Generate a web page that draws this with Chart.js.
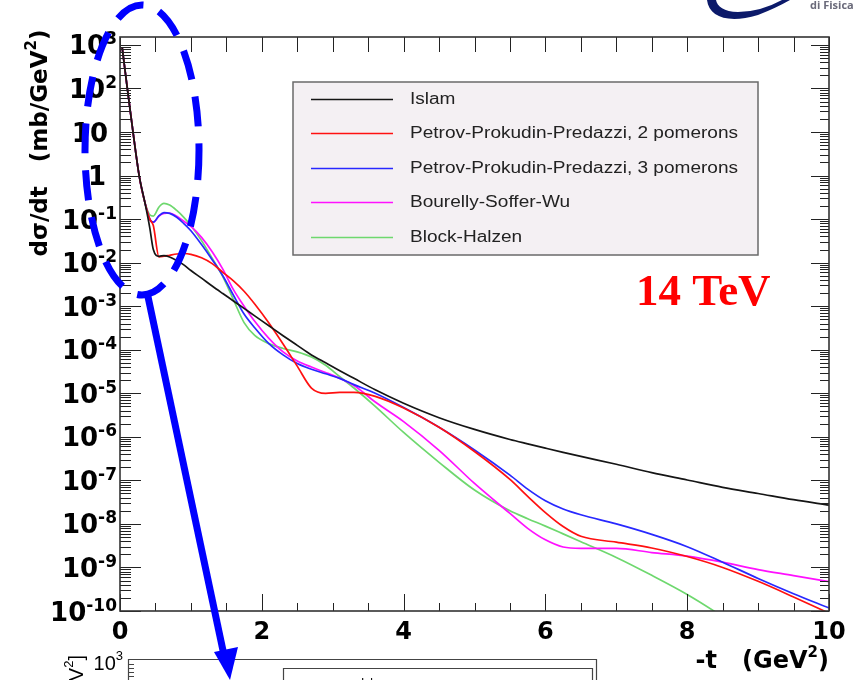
<!DOCTYPE html>
<html>
<head>
<meta charset="utf-8">
<script src="https://cdn.jsdelivr.net/npm/chart.js@4.4.1/dist/chart.umd.min.js"></script>
<style>
  html, body { margin: 0; padding: 0; background: #fff; }
  #c { display: block; }
</style>
</head>
<body>
<canvas id="c" width="857" height="680"></canvas>
<script>
// -t values (GeV^2), shared by all curves
const tValues = [0.03, 0.1, 0.18, 0.27, 0.35, 0.42, 0.47, 0.55, 0.62, 0.7, 0.8, 0.9, 1.0, 1.15, 1.3, 1.45,
  1.6, 1.75, 1.9, 2.1, 2.3, 2.5, 2.7, 2.9, 3.1, 3.3, 3.6, 4.0, 4.5, 5.0, 5.5, 5.75, 6.0, 6.25, 6.5, 7.0,
  7.5, 8.0, 8.5, 9.0, 9.5, 10.0];

// dsigma/dt in mb/GeV^2
const islam = [8.9e2, 1.1e2, 1.1e1, 1.0, 2.45e-1, 6.3e-2, 2.0e-2, 1.4e-2, 1.45e-2, 1.35e-2, 1.12e-2, 8.9e-3,
  6.6e-3, 4.4e-3, 2.9e-3, 1.95e-3, 1.32e-3, 8.9e-4, 6.0e-4, 3.55e-4, 2.1e-4, 1.26e-4, 7.6e-5, 5.0e-5,
  3.3e-5, 2.2e-5, 1.2e-5, 5.9e-6, 2.75e-6, 1.48e-6, 8.7e-7, 6.9e-7, 5.5e-7, 4.4e-7, 3.55e-7, 2.34e-7,
  1.5e-7, 1.02e-7, 6.9e-8, 5.0e-8, 3.6e-8, 2.7e-8];
const ppp2 = [8.9e2, 1.1e2, 1.1e1, 1.0, 2.45e-1, 1.0e-1, 7.1e-2, 1.35e-2, 1.4e-2, 1.48e-2, 1.58e-2, 1.62e-2,
  1.55e-2, 1.29e-2, 9.5e-3, 6.0e-3, 3.8e-3, 2.2e-3, 1.12e-3, 4.1e-4, 1.35e-4, 4.2e-5, 1.32e-5, 1.0e-5,
  1.05e-5, 1.05e-5, 8.5e-6, 4.6e-6, 1.66e-6, 4.6e-7, 1.05e-7, 4.3e-8, 1.82e-8, 8.7e-9, 5.2e-9, 3.8e-9,
  2.8e-9, 1.78e-9, 1.0e-9, 4.8e-10, 2.1e-10, 8.9e-11];
const ppp3 = [8.9e2, 1.1e2, 1.1e1, 1.0, 2.45e-1, 1.0e-1, 8.5e-2, 1.2e-1, 1.41e-1, 1.35e-1, 1.1e-1, 7.9e-2,
  5.4e-2, 2.6e-2, 1.17e-2, 5.0e-3, 1.78e-3, 6.6e-4, 3.2e-4, 1.38e-4, 7.6e-5, 4.8e-5, 3.55e-5, 2.8e-5,
  2.2e-5, 1.58e-5, 1.0e-5, 4.7e-6, 1.66e-6, 5.0e-7, 1.32e-7, 6.3e-8, 3.4e-8, 2.2e-8, 1.62e-8, 1.0e-8,
  5.75e-9, 3.0e-9, 1.32e-9, 5.6e-10, 2.5e-10, 1.17e-10];
const bsw = [8.9e2, 1.1e2, 1.1e1, 1.0, 2.45e-1, 1.0e-1, 8.5e-2, 1.17e-1, 1.35e-1, 1.38e-1, 1.17e-1, 8.9e-2,
  6.8e-2, 3.8e-2, 1.78e-2, 7.1e-3, 2.4e-3, 1.0e-3, 4.5e-4, 1.82e-4, 8.9e-5, 5.5e-5, 4.0e-5, 3.0e-5,
  2.2e-5, 1.51e-5, 6.3e-6, 2.24e-6, 4.9e-7, 8.5e-8, 1.74e-8, 7.9e-9, 4.3e-9, 2.95e-9, 2.75e-9, 2.75e-9,
  2.2e-9, 1.82e-9, 1.32e-9, 8.9e-10, 6.5e-10, 4.7e-10];
const blockHalzen = [8.9e2, 1.1e2, 1.1e1, 1.0, 2.45e-1, 1.26e-1, 1.17e-1, 1.9e-1, 2.3e-1, 2.1e-1, 1.58e-1,
  1.1e-1, 7.1e-2, 3.2e-2, 1.26e-2, 4.8e-3, 1.41e-3, 4.2e-4, 2.14e-4, 1.38e-4, 1.07e-4, 8.9e-5, 6.8e-5,
  4.4e-5, 2.4e-5, 1.32e-5, 5.0e-6, 1.26e-6, 2.6e-7, 6.0e-8, 2.0e-8, 1.32e-8, 8.9e-9, 5.9e-9, 3.9e-9,
  1.7e-9, 6.6e-10, 2.4e-10, 7.4e-11, 2.0e-11, 5.0e-12, 1.26e-12];

const seriesLabels = ['Islam', 'Petrov-Prokudin-Predazzi, 2 pomerons', 'Petrov-Prokudin-Predazzi, 3 pomerons',
  'Bourelly-Soffer-Wu', 'Block-Halzen'];
const seriesColors = ['#151515', '#ff1010', '#2828ff', '#ff10ff', '#6ed86e'];
const xTickValues = [0, 2, 4, 6, 8, 10];
const yDecades = [-10, -9, -8, -7, -6, -5, -4, -3, -2, -1, 0, 1, 2, 3];

const allSeries = [islam, ppp2, ppp3, bsw, blockHalzen];
const datasets = allSeries.map((vals, i) => ({
  label: seriesLabels[i],
  data: tValues.map((t, j) => ({ x: t, y: vals[j] })),
  borderColor: seriesColors[i],
  borderWidth: 1.7,
  pointRadius: 0,
  cubicInterpolationMode: 'monotone',
  fill: false
}));

const BOLD = 'DejaVu Sans';

function drawRuns(ctx, runs, x, y, align) {
  let total = 0;
  const w = runs.map(r => { ctx.font = r.font; const m = ctx.measureText(r.text).width; total += m; return m; });
  let cx = align === 'right' ? x - total : align === 'center' ? x - total / 2 : x;
  ctx.textAlign = 'left';
  ctx.textBaseline = 'alphabetic';
  runs.forEach((r, i) => {
    ctx.font = r.font;
    ctx.fillText(r.text, cx, y + (r.dy || 0));
    cx += w[i];
  });
}

const decor = {
  id: 'decor',
  beforeDraw(chart) {
    const ctx = chart.ctx;
    ctx.save();
    ctx.fillStyle = '#fff';
    ctx.fillRect(0, 0, chart.width, chart.height);
    ctx.restore();
  },
  afterDraw(chart) {
    const { ctx, chartArea: a } = chart;
    const xs = chart.scales.x, ys = chart.scales.y;
    ctx.save();

    // axis ticks
    ctx.strokeStyle = '#222';
    ctx.lineWidth = 1;
    ctx.beginPath();
    for (let v = 0; v <= 10.001; v += 0.5) {
      const px = Math.round(xs.getPixelForValue(v)) + 0.5;
      const major = Math.abs(v / 2 - Math.round(v / 2)) < 1e-6;
      ctx.moveTo(px, a.bottom); ctx.lineTo(px, a.bottom - (major ? 17 : 8));
      ctx.moveTo(px, a.top); ctx.lineTo(px, a.top + 15);
    }
    yDecades.forEach(k => {
      for (let m = 1; m <= 9; m++) {
        const v = m * Math.pow(10, k);
        if (v > ys.max) continue;
        const py = Math.round(ys.getPixelForValue(v)) + 0.5;
        const len = m === 1 ? 21 : 11;
        ctx.moveTo(a.left, py); ctx.lineTo(a.left + len, py);
        ctx.moveTo(a.right, py); ctx.lineTo(a.right - (m === 1 ? 18 : 9), py);
      }
    });
    ctx.stroke();

    // frame
    ctx.lineWidth = 1.6;
    ctx.strokeStyle = '#333';
    ctx.strokeRect(a.left, a.top, a.right - a.left, a.bottom - a.top);

    // y tick labels
    ctx.fillStyle = '#000';
    yDecades.forEach(k => {
      const py = ys.getPixelForValue(Math.pow(10, k));
      if (k === 0) drawRuns(ctx, [{ text: '1', font: 'bold 26px ' + BOLD }], 106, py + 9.5, 'right');
      else if (k === 1) drawRuns(ctx, [{ text: '10', font: 'bold 26px ' + BOLD }], 108, py + 9.5, 'right');
      else drawRuns(ctx, [{ text: '10', font: 'bold 26px ' + BOLD },
        { text: String(k), font: 'bold 17px ' + BOLD, dy: -10 }], 117, py + 9.5, 'right');
    });

    // x tick labels
    xTickValues.forEach(v => {
      drawRuns(ctx, [{ text: String(v), font: 'bold 24px ' + BOLD }], xs.getPixelForValue(v), 639, 'center');
    });

    // axis titles
    drawRuns(ctx, [{ text: '-t   (GeV', font: 'bold 24px ' + BOLD },
      { text: '2', font: 'bold 15px ' + BOLD, dy: -11 },
      { text: ')', font: 'bold 24px ' + BOLD }], 829, 668, 'right');
    ctx.save();
    ctx.translate(47, 143);
    ctx.rotate(-Math.PI / 2);
    drawRuns(ctx, [{ text: 'd\u03c3/dt   (mb/GeV', font: 'bold 23px ' + BOLD },
      { text: '2', font: 'bold 15px ' + BOLD, dy: -11 },
      { text: ')', font: 'bold 23px ' + BOLD }], 0, 0, 'center');
    ctx.restore();

    // legend box
    const lb = { l: 293, t: 82, r: 758, b: 255 };
    ctx.fillStyle = '#f4f0f3';
    ctx.fillRect(lb.l, lb.t, lb.r - lb.l, lb.b - lb.t);
    ctx.strokeStyle = '#6a6a6a';
    ctx.lineWidth = 1.5;
    ctx.strokeRect(lb.l, lb.t, lb.r - lb.l, lb.b - lb.t);
    const rowY = [99, 133, 168, 202, 237];
    ctx.font = '16px "Liberation Sans"';
    const sx = 328 / ctx.measureText(seriesLabels[1]).width;
    chart.data.datasets.forEach((ds, i) => {
      ctx.strokeStyle = ds.borderColor;
      ctx.lineWidth = 1.3;
      ctx.beginPath();
      ctx.moveTo(311, rowY[i] + 0.5); ctx.lineTo(393, rowY[i] + 0.5);
      ctx.stroke();
      ctx.save();
      ctx.translate(410, rowY[i]);
      ctx.scale(sx, 1);
      ctx.fillStyle = '#222';
      ctx.font = '16px "Liberation Sans"';
      ctx.textAlign = 'left';
      ctx.textBaseline = 'middle';
      ctx.fillText(ds.label, 0, 1);
      ctx.restore();
    });

    // energy label
    ctx.fillStyle = '#ff0000';
    ctx.font = 'bold 45px "Liberation Serif"';
    ctx.textAlign = 'left';
    ctx.textBaseline = 'alphabetic';
    ctx.fillText('14 TeV', 636, 305);

    // second (cut-off) panel below
    ctx.strokeStyle = '#444';
    ctx.lineWidth = 1.2;
    ctx.beginPath();
    ctx.moveTo(128.5, 700); ctx.lineTo(128.5, 659.5); ctx.lineTo(596.5, 659.5); ctx.lineTo(596.5, 700);
    ctx.moveTo(283.5, 700); ctx.lineTo(283.5, 668.5); ctx.lineTo(592.5, 668.5); ctx.lineTo(592.5, 700);
    ctx.stroke();
    ctx.beginPath();
    [664, 668, 672, 676].forEach(py => { ctx.moveTo(129, py + 0.5); ctx.lineTo(134, py + 0.5); });
    ctx.stroke();
    ctx.fillStyle = '#000';
    drawRuns(ctx, [{ text: '10', font: '20px "Liberation Sans"' },
      { text: '3', font: '13px "Liberation Sans"', dy: -10 }], 123, 670, 'right');
    ctx.font = '12px "Liberation Sans"';
    ctx.fillText('Islam', 361, 687);
    ctx.save();
    ctx.translate(83, 655);
    ctx.rotate(-Math.PI / 2);
    drawRuns(ctx, [{ text: 'd\u03c3/dt  [mb/GeV', font: '20px "Liberation Sans"' },
      { text: '2', font: '13px "Liberation Sans"', dy: -10 },
      { text: ']', font: '20px "Liberation Sans"' }], 0, 0, 'right');
    ctx.restore();

    // logo fragment
    ctx.fillStyle = '#0c1a6a';
    ctx.beginPath();
    ctx.moveTo(707, 0);
    ctx.bezierCurveTo(709, 17, 728, 24, 758, 15);
    ctx.quadraticCurveTo(776, 8, 790, 0);
    ctx.lineTo(782, 0);
    ctx.quadraticCurveTo(760, 12, 738, 12);
    ctx.bezierCurveTo(724, 12, 717, 6, 716, 0);
    ctx.closePath();
    ctx.fill();
    ctx.fillStyle = '#6a6a7a';
    ctx.font = 'bold 11px "Open Sans"';
    ctx.fillText('di Fisica', 810, 9);

    // dashed ellipse + arrow
    ctx.strokeStyle = '#0000ff';
    ctx.lineWidth = 7;
    ctx.setLineDash([30, 17]);
    ctx.beginPath();
    ctx.ellipse(142, 150, 57, 145, 0, 0, Math.PI * 2);
    ctx.stroke();
    ctx.setLineDash([]);
    ctx.lineWidth = 7;
    ctx.beginPath();
    ctx.moveTo(147, 292);
    ctx.lineTo(225, 660);
    ctx.stroke();
    ctx.fillStyle = '#0000ff';
    ctx.beginPath();
    ctx.moveTo(230, 680);
    ctx.lineTo(214, 652);
    ctx.lineTo(238, 647);
    ctx.closePath();
    ctx.fill();

    ctx.restore();
  }
};

new Chart(document.getElementById('c').getContext('2d'), {
  type: 'line',
  data: { datasets: datasets },
  options: {
    responsive: false,
    animation: false,
    devicePixelRatio: 1,
    layout: { padding: { left: 120, top: 37, right: 28, bottom: 69 } },
    plugins: { legend: { display: false }, tooltip: { enabled: false } },
    scales: {
      x: { type: 'linear', min: 0, max: 10, display: false },
      y: { type: 'logarithmic', min: 1e-10, max: 1520, display: false }
    }
  },
  plugins: [decor]
});
</script>
</body>
</html>
